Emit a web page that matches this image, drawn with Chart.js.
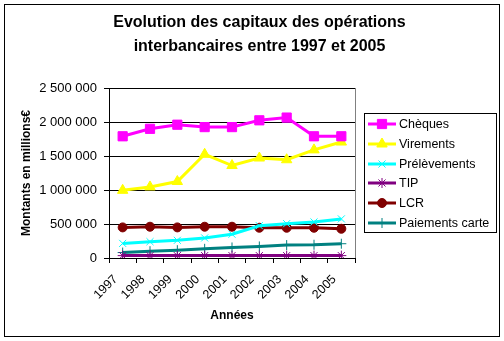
<!DOCTYPE html>
<html>
<head>
<meta charset="utf-8">
<script src="https://cdn.jsdelivr.net/npm/chart.js@4/dist/chart.umd.min.js"></script>
<style>
  html, body { margin: 0; padding: 0; background: #fff; }
  #wrap { width: 504px; height: 341px; }
</style>
</head>
<body>
<div id="wrap"><canvas id="graph" width="504" height="341"></canvas></div>
<script>
// données (millions €)
const annees = ['1997', '1998', '1999', '2000', '2001', '2002', '2003', '2004', '2005'];
const cheques = [1790000, 1900000, 1960000, 1925000, 1925000, 2025000, 2065000, 1790000, 1790000];
const virements = [995000, 1045000, 1125000, 1525000, 1360000, 1470000, 1445000, 1590000, 1705000];
const prelevements = [215000, 240000, 260000, 295000, 350000, 475000, 505000, 530000, 575000];
const tip = [35000, 35000, 35000, 35000, 35000, 35000, 35000, 35000, 35000];
const lcr = [450000, 460000, 450000, 460000, 460000, 445000, 445000, 445000, 430000];
const paiementsCarte = [80000, 100000, 115000, 135000, 155000, 170000, 190000, 195000, 210000];
const yTicks = [0, 500000, 1000000, 1500000, 2000000, 2500000];

const police = 'Arial, "Liberation Sans", sans-serif';

function serie(label, data, couleur, forme, rayon) {
    return {
        label: label,
        data: data,
        borderColor: couleur,
        backgroundColor: couleur,
        borderWidth: 3,
        pointStyle: forme,
        pointRadius: rayon,
        pointBorderWidth: 1,
        pointBorderColor: couleur,
        pointBackgroundColor: couleur,
        tension: 0,
        yAxisID: 'y'
    };
}

function formatNombre(v) {
    return String(v).replace(/\B(?=(\d{3})+(?!\d))/g, ' ');
}

// cadre + bord droit du tracé + légende façon Excel
const cadreLegende = {
    id: 'cadreLegende',
    afterDraw(chart) {
        const ctx = chart.ctx;
        const a = chart.chartArea;
        ctx.save();
        ctx.strokeStyle = '#000';
        ctx.lineWidth = 1;
        ctx.strokeRect(4.5, 4.5, 495, 332);
        ctx.strokeStyle = '#808080';
        ctx.beginPath();
        ctx.moveTo(Math.round(a.right) + 0.5, a.top);
        ctx.lineTo(Math.round(a.right) + 0.5, a.bottom);
        ctx.stroke();

        // légende
        ctx.strokeStyle = '#000';
        ctx.strokeRect(364.5, 113.5, 132, 119);
        ctx.font = '12.5px ' + police;
        ctx.textBaseline = 'middle';
        ctx.textAlign = 'left';
        chart.data.datasets.forEach((ds, i) => {
            const y = Math.round(124 + i * 19.8);
            ctx.strokeStyle = ds.borderColor;
            ctx.lineWidth = 3;
            ctx.beginPath();
            ctx.moveTo(368, y);
            ctx.lineTo(396, y);
            ctx.stroke();
            ctx.lineWidth = 1;
            ctx.fillStyle = ds.backgroundColor;
            Chart.helpers.drawPoint(ctx, {
                pointStyle: ds.pointStyle,
                radius: ds.pointRadius,
                rotation: 0,
                borderWidth: 1
            }, 382, y);
            ctx.fillStyle = '#000';
            ctx.fillText(ds.label, 399, y + 1);
        });
        ctx.restore();
    }
};

const ctx = document.getElementById('graph').getContext('2d');
const graphique = new Chart(ctx, {
    type: 'line',
    data: {
        labels: annees,
        datasets: [
            serie('Chèques', cheques, '#FF00FF', 'rect', 6.5),
            serie('Virements', virements, '#FFFF00', 'triangle', 6),
            serie('Prélèvements', prelevements, '#00FFFF', 'crossRot', 5),
            serie('TIP', tip, '#800080', 'star', 5),
            serie('LCR', lcr, '#800000', 'circle', 4.5),
            serie('Paiements carte', paiementsCarte, '#008080', 'cross', 5)
        ]
    },
    options: {
        responsive: false,
        animation: false,
        devicePixelRatio: 1,
        layout: { padding: { left: 15, right: 0, top: 0, bottom: 18 } },
        plugins: {
            legend: { display: false },
            tooltip: { enabled: false },
            title: {
                display: true,
                text: ['Evolution des capitaux des opérations', 'interbancaires entre 1997 et 2005'],
                color: '#000',
                font: { family: police, size: 16, weight: 'bold', lineHeight: 1.5 },
                padding: { top: 11, bottom: 29 }
            }
        },
        scales: {
            x: {
                type: 'category',
                offset: true,
                grid: { display: true, offset: true, drawOnChartArea: false, drawTicks: true, tickLength: 5, color: '#000' },
                border: { display: true, color: '#000', width: 1 },
                ticks: {
                    color: '#000',
                    font: { family: police, size: 12.5 },
                    maxRotation: 45,
                    minRotation: 45,
                    labelOffset: -7,
                    padding: 9,
                    autoSkip: false
                },
                title: {
                    display: true,
                    text: 'Années',
                    color: '#000',
                    font: { family: police, size: 12, weight: 'bold' },
                    padding: 0
                },
                afterFit(scale) { scale.height = 65; }
            },
            y: {
                min: 0,
                max: 2500000,
                afterBuildTicks(scale) { scale.ticks = yTicks.map(v => ({ value: v })); },
                grid: { color: '#000', lineWidth: 1, tickLength: 5, drawTicks: true },
                border: { display: true, color: '#000', width: 1 },
                ticks: {
                    color: '#000',
                    font: { family: police, size: 13 },
                    padding: 7,
                    callback: v => formatNombre(v)
                },
                title: {
                    display: true,
                    text: 'Montants en millions€',
                    color: '#000',
                    font: { family: police, size: 12, weight: 'bold' },
                    padding: 4
                },
                afterFit(scale) { scale.width = 94; }
            },
            // axe vide à droite : réserve la place de la légende
            reserve: {
                position: 'right',
                display: true,
                grid: { display: false, drawTicks: false },
                border: { display: false },
                ticks: { display: false },
                afterFit(scale) { scale.width = 149; }
            }
        }
    },
    plugins: [cadreLegende]
});
</script>
</body>
</html>
